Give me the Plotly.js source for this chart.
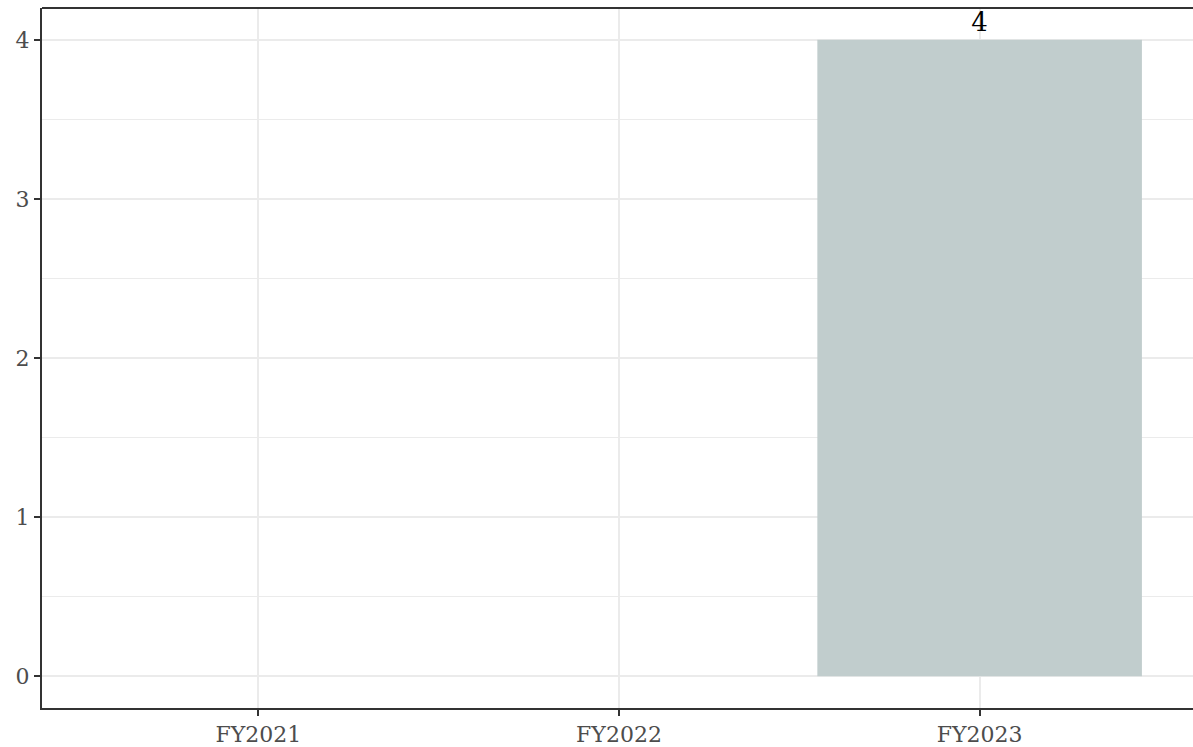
<!DOCTYPE html>
<html>
<head>
<meta charset="utf-8">
<script src="https://cdn.plot.ly/plotly-3.0.1.min.js"></script>
<style>html,body{margin:0;padding:0;overflow:hidden;background:#fff;width:1193px;height:747px;}</style>
</head>
<body>
<div id="chart" style="width:1196px;height:747px;"></div>
<script>
const categories = ["FY2021", "FY2022", "FY2023"];
const values = [0, 0, 4];
const yTicks = [0, 1, 2, 3, 4];
const labels = values.map(v => v > 0 ? String(v) : "");

const fontFam = "DejaVu Serif, Liberation Serif, serif";

const trace = {
  type: "bar",
  x: categories,
  y: values,
  text: labels,
  textposition: "outside",
  cliponaxis: false,
  textfont: {family: fontFam, size: 26, color: "#000000"},
  marker: {color: "#c1cdcd", line: {width: 0}},
  hoverinfo: "x+y"
};

const layout = {
  width: 1196,
  height: 747,
  margin: {l: 42, r: 0, t: 8, b: 39, pad: 0},
  paper_bgcolor: "#ffffff",
  plot_bgcolor: "#ffffff",
  showlegend: false,
  bargap: 0.1,
  font: {family: fontFam, color: "#4d4d4d", size: 22},
  xaxis: {
    type: "category",
    range: [-0.6, 2.6],
    showgrid: true,
    gridcolor: "#ebebeb",
    gridwidth: 2,
    showline: true,
    linecolor: "#333333",
    linewidth: 2,
    ticks: "outside",
    ticklen: 6,
    tickwidth: 2,
    tickcolor: "#333333",
    tickfont: {family: fontFam, size: 22, color: "#4d4d4d"},
    zeroline: false,
    fixedrange: true
  },
  yaxis: {
    range: [-0.2, 4.2],
    tickvals: yTicks,
    ticktext: yTicks.map(String),
    showgrid: true,
    gridcolor: "#ebebeb",
    gridwidth: 2,
    minor: {dtick: 0.5, showgrid: true, gridcolor: "#ebebeb", gridwidth: 1.2, ticks: ""},
    showline: true,
    linecolor: "#333333",
    linewidth: 2,
    ticks: "outside",
    ticklen: 6,
    tickwidth: 2,
    tickcolor: "#333333",
    tickfont: {family: fontFam, size: 22, color: "#4d4d4d"},
    zeroline: false,
    fixedrange: true
  },
  shapes: [
    {type: "line", xref: "paper", yref: "paper", x0: 0, x1: 1, y0: 1, y1: 1,
     line: {color: "#333333", width: 2}}
  ]
};

Plotly.newPlot("chart", [trace], layout, {displayModeBar: false, staticPlot: true});
</script>
</body>
</html>
